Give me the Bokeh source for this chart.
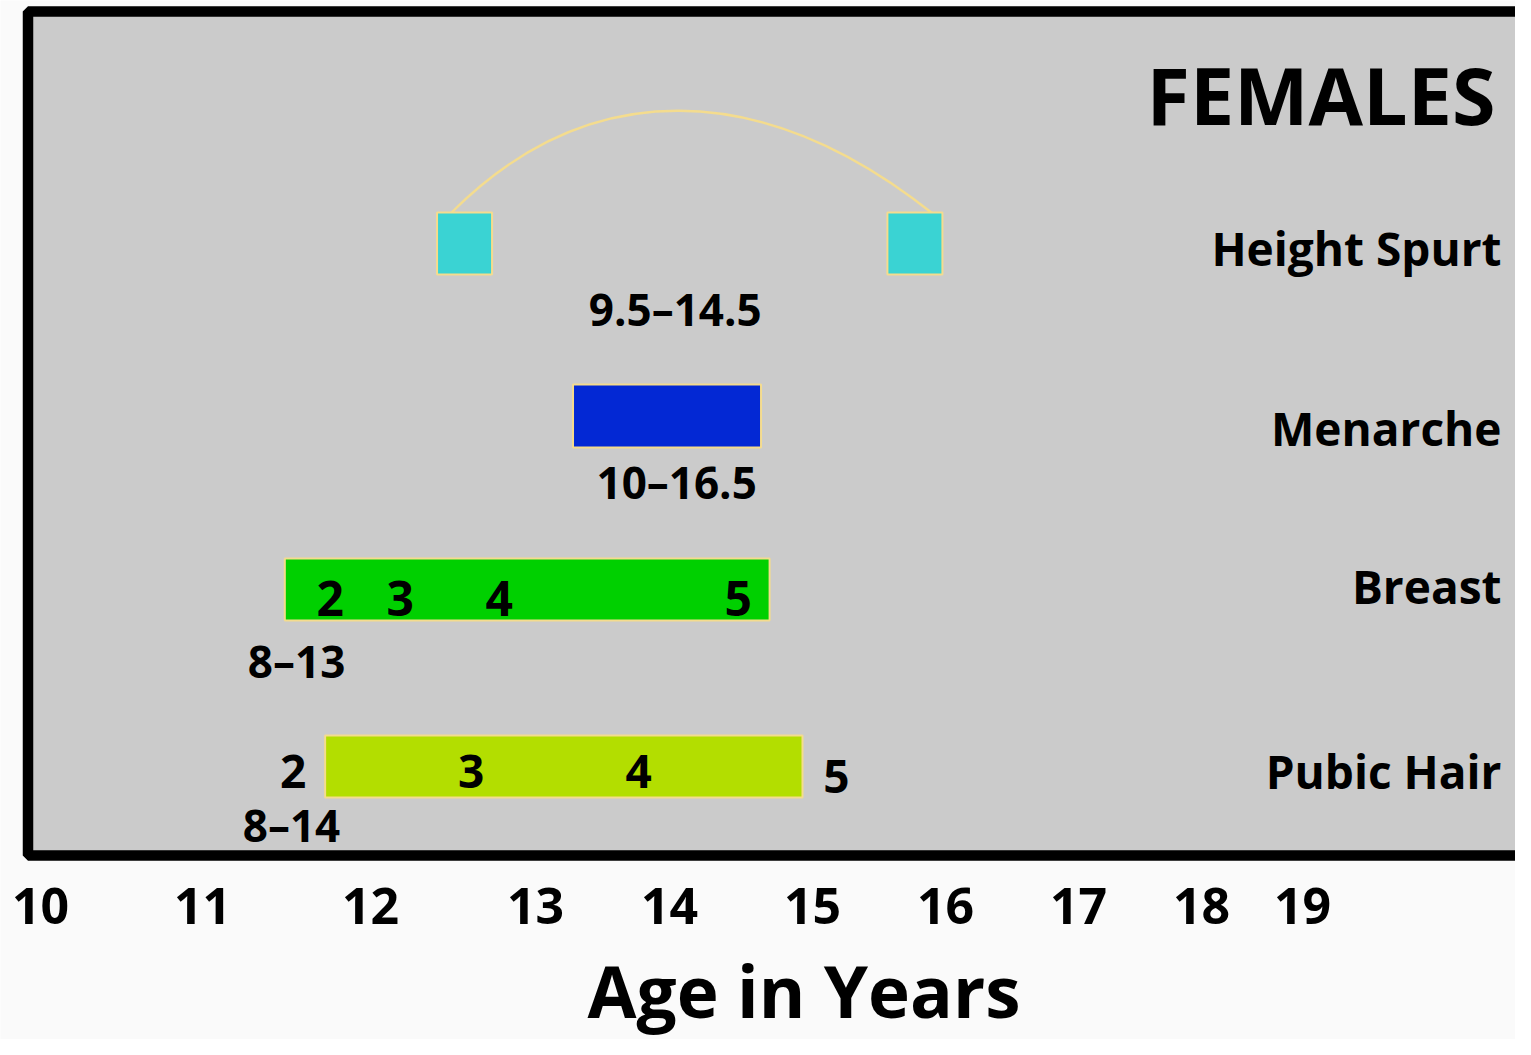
import numpy as np
from bokeh.plotting import figure
from bokeh.models import Range1d
from bokeh.core.properties import value
from bokeh.embed import file_html
from bokeh.resources import INLINE

# ---------------- data ----------------
tick_ages = [10, 11, 12, 13, 14, 15, 16, 17, 18, 19]
tick_labels = ["10", "11", "12", "13", "14", "15", "16", "17", "18", "19"]

rows = ["Height Spurt", "Menarche", "Breast", "Pubic Hair"]

height_spurt_ages = [12.57, 15.77]          # start / end markers of the spurt
height_spurt_range = "9.5–14.5"

menarche_start, menarche_end = 13.28, 14.64
menarche_range = "10–16.5"

breast_start, breast_end = 11.49, 14.70
breast_stage_ages = [11.76, 12.18, 12.78, 14.48]
breast_stage_labels = ["2", "3", "4", "5"]
breast_range = "8–13"

pubic_start, pubic_end = 11.73, 14.93
pubic_stage_ages = [11.54, 12.61, 13.77, 15.18]
pubic_stage_labels = ["2", "3", "4", "5"]
pubic_range = "8–14"

range_labels = [height_spurt_range, menarche_range, breast_range, pubic_range]
range_label_ages = [14.04, 14.05, 11.56, 11.53]

title_text = "FEMALES"
axis_title = "Age in Years"

# ---------------- layout ----------------
# the printed age scale of the original is not uniform:
# horizontal position of each labelled age on the chart
AGE_SCALE_POS = [40, 202, 370, 535, 669, 812, 945, 1078, 1201, 1302]


def X(a):
    return np.interp(a, tick_ages, AGE_SCALE_POS)


ROW_Y = [243, 415.5, 589, 766]          # vertical centre of each row
BAR_H = 62
RANGE_DY = [84, 84.5, 90, 77]           # baseline of range label below row centre
ROW_LABEL_Y = [267, 447, 605, 790]
TICK_LABEL_Y = 926
AXIS_TITLE_Y = 1020
FONT = value("Open Sans")
OUTLINE = "#f4dc8e"
BASE_FIX = 0.42                          # baseline correction (fraction of font size)

p = figure(width=1515, height=1039,
           x_range=Range1d(0, 1515), y_range=Range1d(1039, 0),
           output_backend="svg", toolbar_location=None,
           x_axis_location=None, y_axis_location=None, min_border=0)
p.background_fill_color = "#fafafa"
p.border_fill_color = "#fafafa"
p.outline_line_color = None
p.grid.visible = False

# framed grey panel (extends past the right edge)
p.quad(left=27.5, right=1700, top=11, bottom=855,
       fill_color="#cbcbcb", line_color="black", line_width=10.5)


def txt(x, baseline, s, size, align="center"):
    y = [b - BASE_FIX * size for b in baseline]
    p.text(x=x, y=y, text=s, text_align=align, text_baseline="alphabetic",
           text_font=FONT, text_font_style="bold",
           text_font_size=value(f"{size}px"), text_color="black")


# ---- Height spurt ----
hx = X(height_spurt_ages)
y0 = ROW_Y[0]
ax0 = hx[0] - 13
ax1 = hx[1] + 19
p.bezier(x0=[ax0], y0=[y0 - 31], x1=[ax1], y1=[y0 - 29],
         cx0=[ax0 + 136], cy0=[y0 - 167], cx1=[ax1 - 173], cy1=[y0 - 167],
         line_color=OUTLINE, line_width=2.4)
p.rect(x=hx, y=[y0, y0], width=55, height=BAR_H,
       fill_color="#3ad3d3", line_color=OUTLINE, line_width=2)

# ---- Menarche ----
y1 = ROW_Y[1]
p.quad(left=[X(menarche_start)], right=[X(menarche_end)],
       top=[y1 - 31.5], bottom=[y1 + 31.5],
       fill_color="#0328d4", line_color=OUTLINE, line_width=2)

# ---- Breast ----
y2 = ROW_Y[2]
p.quad(left=[X(breast_start)], right=[X(breast_end)],
       top=[y2 - BAR_H / 2], bottom=[y2 + BAR_H / 2],
       fill_color="#00d000", line_color=OUTLINE, line_width=2)
txt(X(breast_stage_ages), [y2 + 29] * 4, breast_stage_labels, 48)

# ---- Pubic hair ----
y3 = ROW_Y[3]
p.quad(left=[X(pubic_start)], right=[X(pubic_end)],
       top=[y3 - BAR_H / 2], bottom=[y3 + BAR_H / 2],
       fill_color="#b3de00", line_color=OUTLINE, line_width=2)
txt(X(pubic_stage_ages), [y3 + 24, y3 + 24, y3 + 24, y3 + 29], pubic_stage_labels, 46)

# ---- range labels ----
txt(X(range_label_ages), [ROW_Y[i] + RANGE_DY[i] for i in range(4)], range_labels, 44)

# ---- row labels & title ----
txt([1501] * 4, ROW_LABEL_Y, rows, 46, align="right")
txt([1495], [127], [title_text], 79, align="right")

# ---- age scale (uneven, as printed in the original) and its title ----
txt(X(tick_ages), [TICK_LABEL_Y] * len(tick_ages), tick_labels, 50)
txt([803.5], [AXIS_TITLE_Y], [axis_title], 71)

open("out.html", "w").write(file_html(p, INLINE))
